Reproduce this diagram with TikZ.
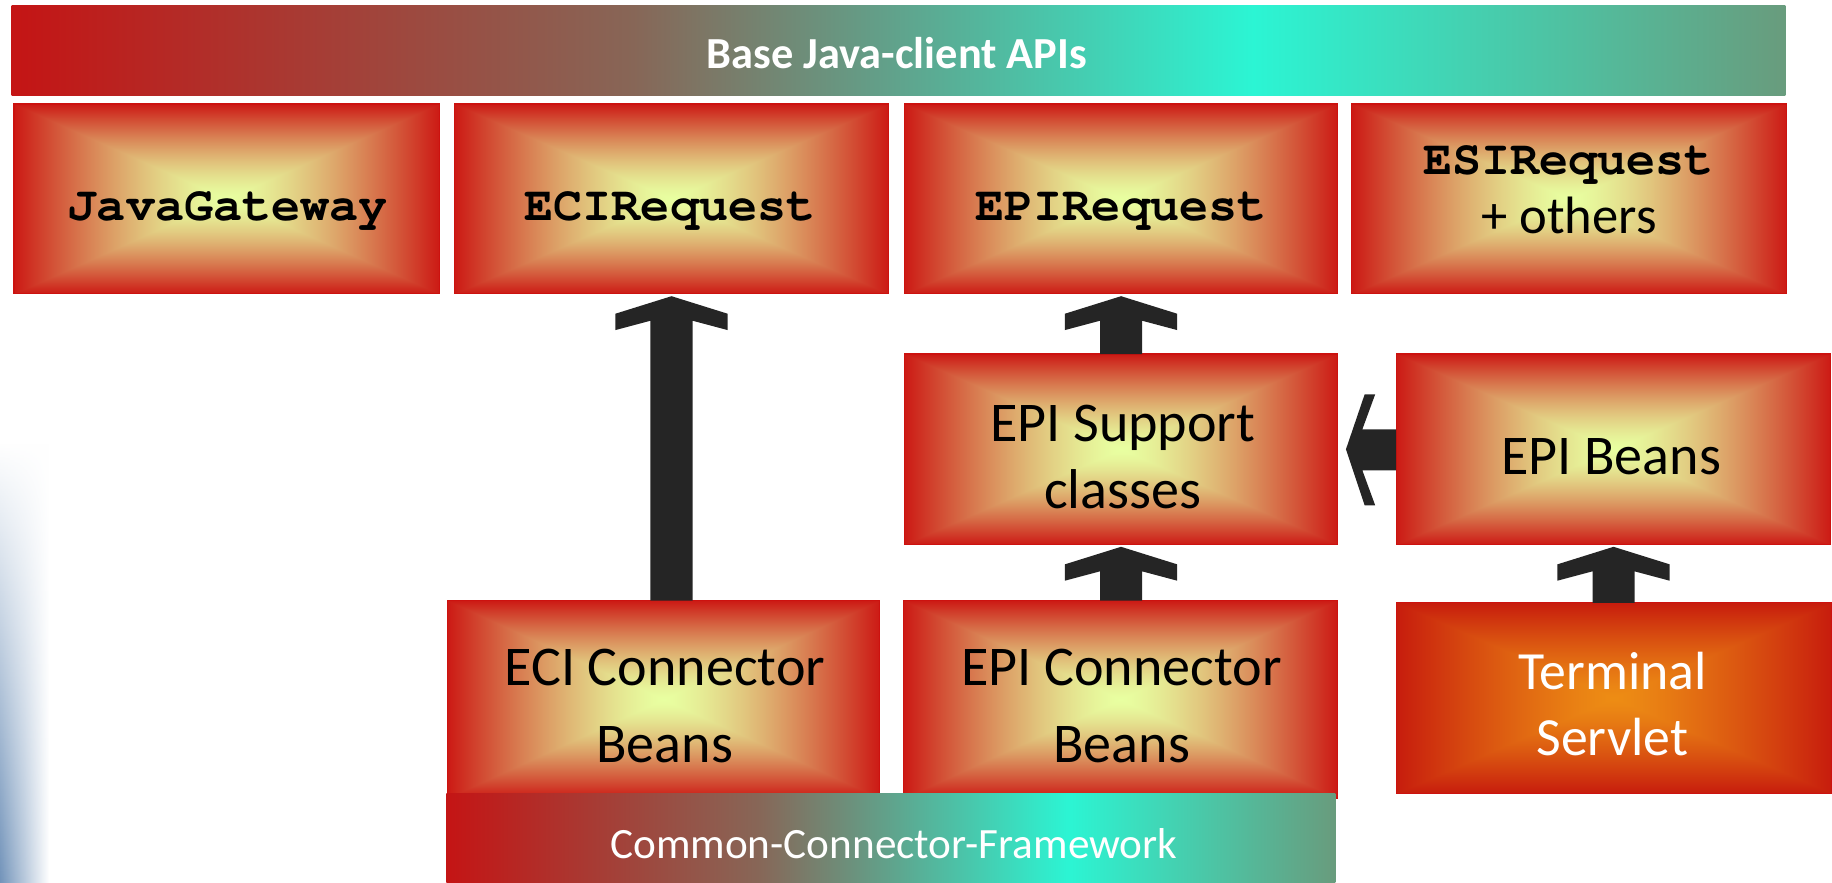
\documentclass[tikz,border=0pt]{standalone}
\usepackage{fontspec}
\setmainfont{Carlito}
\newfontfamily\courfont{TeX Gyre Cursor}
\usetikzlibrary{calc,fadings}

\definecolor{arrowblk}{HTML}{252525}
\definecolor{boxedge}{rgb}{0.80,0.07,0.06}
\definecolor{barA}{rgb}{0.77,0.08,0.08}
\definecolor{barB}{rgb}{0.53,0.40,0.34}
\definecolor{barC}{rgb}{0.17,0.96,0.83}
\definecolor{barD}{rgb}{0.41,0.61,0.49}
\definecolor{edgeblue}{rgb}{0.45,0.58,0.73}

\pgfdeclarefunctionalshading{boxshade}{\pgfpoint{-50bp}{-50bp}}{\pgfpoint{50bp}{50bp}}{}{
 abs exch abs 2 copy lt {exch} if pop 25 div dup 1 gt {pop 1} if 1.4 exp
 dup -0.11 mul 0.91 add exch
 dup -0.90 mul 1.0 add exch
 -0.55 mul 0.63 add
}
\pgfdeclarefunctionalshading{termshade}{\pgfpoint{-50bp}{-50bp}}{\pgfpoint{50bp}{50bp}}{}{
 abs exch abs 2 copy lt {exch} if pop 25 div dup 1 gt {pop 1} if 1.3 exp
 dup -0.15 mul 0.93 add exch
 dup -0.44 mul 0.55 add exch
 -0.03 mul 0.08 add
}
\pgfdeclarehorizontalshading{barshade}{100bp}{color(0bp)=(barA); color(25bp)=(barA); color(42.5bp)=(barB); color(60bp)=(barC); color(75bp)=(barD); color(100bp)=(barD)}
\tikzfading[name=leftfade, top color=transparent!100, bottom color=transparent!0]

\newcommand\uparrowblk[2]{%
 \fill[arrowfill] let \p1=(#1), \p2=(#2) in
 (\x2,\y2-2pt) -- (\x2+48pt,\y2-17pt) -- (\x2+48pt,\y2-31pt) -- (\x2+18pt,\y2-23pt)
 -- (\x2+18pt,\y1) -- (\x2-18pt,\y1) -- (\x2-18pt,\y2-23pt) -- (\x2-48pt,\y2-31pt)
 -- (\x2-48pt,\y2-17pt) -- cycle;}

\begin{document}
\begin{tikzpicture}[x=1pt,y=-1pt,
 box/.style={draw=boxedge, line width=1pt, shade, shading=boxshade, inner sep=0pt, outer sep=0pt},
 termbox/.style={draw=boxedge, line width=1pt, shade, shading=termshade, inner sep=0pt, outer sep=0pt},
 bar/.style={shade, shading=barshade, inner sep=0pt, outer sep=0pt},
 arrowfill/.style={fill=arrowblk},
 monotxt/.style={font=\courfont\bfseries\fontsize{41.5}{48}\selectfont, text=black, inner sep=0pt, anchor=base},
 comictxt/.style={font=\fontsize{48}{56}\selectfont, text=black, inner sep=0pt, anchor=base},
 whitetxt/.style={font=\fontsize{46}{54}\selectfont, text=white, inner sep=0pt, anchor=base},
 bartxt/.style={text=white, inner sep=0pt, anchor=base}]
\useasboundingbox (0,0) rectangle (1568,755);
\fill[white] (0,0) rectangle (1568,755);
\shade[left color=edgeblue, right color=white, path fading=leftfade] (0,380) rectangle (42,755);

% top bar
\node[bar, minimum width=1518pt, minimum height=77pt] (apis) at (769,43.5) {};
\node[bartxt, font=\bfseries\fontsize{38}{44}\selectfont] (apist) at (767.5,58.5) {Base Java-client APIs};

% top row
\node[box, minimum width=364pt, minimum height=162.5pt] (jg) at (194,170.25) {};
\node[box, minimum width=371.5pt, minimum height=162.5pt] (eci) at (574.75,170.25) {};
\node[box, minimum width=371pt, minimum height=162.5pt] (epi) at (959.5,170.25) {};
\node[box, minimum width=372pt, minimum height=162.5pt] (esi) at (1343,170.25) {};

% middle row
\node[box, minimum width=371pt, minimum height=163pt] (epis) at (959.5,384.5) {};
\node[box, minimum width=372pt, minimum height=163pt] (epib) at (1381,384.5) {};

% bottom row
\node[box, minimum width=370pt, minimum height=169pt] (ecic) at (568,598.5) {};
\node[box, minimum width=371pt, minimum height=169pt] (epic) at (959,598.5) {};
\node[termbox, minimum width=373pt, minimum height=163pt] (term) at (1381.5,597.5) {};

% framework bar
\node[bar, minimum width=761pt, minimum height=76pt] (ccf) at (762.5,717) {};

% arrows
\uparrowblk{ecic.north}{eci.south}
\uparrowblk{epis.north}{epi.south}
\uparrowblk{epic.north}{epis.south}
\uparrowblk{term.north}{epib.south}
\fill[arrowfill] let \p1=(epib.west), \p2=(epis.east) in
 (\x2+7pt,\y1) -- (\x2+23pt,\y1+47pt) -- (\x2+32pt,\y1+47pt) -- (\x2+21pt,\y1+17pt)
 -- (\x1,\y1+17pt) -- (\x1,\y1-18pt) -- (\x2+21pt,\y1-18pt) -- (\x2+32pt,\y1-48pt)
 -- (\x2+23pt,\y1-48pt) -- cycle;

% texts
\node[monotxt] (jgt) at (195,189) {JavaGateway};
\node[monotxt] (ecit) at (573.5,189) {ECIRequest};
\node[monotxt] (epit) at (959.5,189) {EPIRequest};
\node[monotxt] (esit) at (1342.5,149) {ESIRequest};
\node[comictxt, font=\fontsize{45}{52}\selectfont] (esit2) at (1343,199.6) {+ others};
\node[comictxt] (epist1) at (961,378) {EPI Support};
\node[comictxt] (epist2) at (961,435) {classes};
\node[comictxt] (epibt) at (1379,406.5) {EPI Beans};
\node[comictxt] (ecict1) at (569,587) {ECI Connector};
\node[comictxt] (ecict2) at (569,653) {Beans};
\node[comictxt] (epict1) at (960,587) {EPI Connector};
\node[comictxt] (epict2) at (960,653) {Beans};
\node[whitetxt] (termt1) at (1380,590) {Terminal};
\node[whitetxt] (termt2) at (1380,647) {Servlet};
\node[bartxt, font=\fontsize{37}{44}\selectfont] (ccft) at (765,735) {Common-Connector-Framework};
\end{tikzpicture}
\end{document}
